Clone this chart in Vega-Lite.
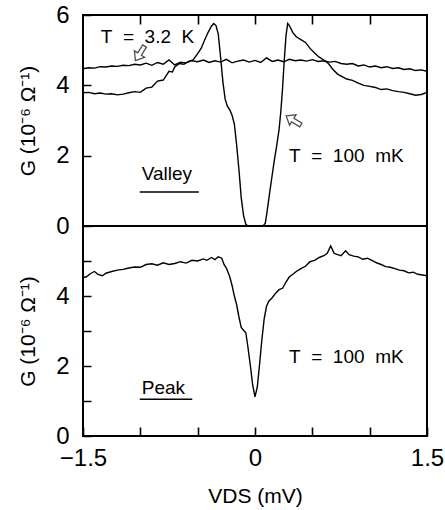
{
  "$schema": "https://vega.github.io/schema/vega-lite/v6.json",
  "padding": {"left": 16, "top": 2, "right": 0, "bottom": 0},
  "background": "white",
  "spacing": 0,
  "bounds": "flush",
  "config": {
    "view": {"stroke": "black", "strokeWidth": 2},
    "axis": {
      "domain": false, "grid": false, "ticks": true, "tickColor": "black", "tickWidth": 1.5, "tickSize": 8, "offset": -8,
      "labelColor": "black", "labelFont": "Liberation Sans", "labelFontSize": 24,
      "titleFont": "Liberation Sans", "titleFontSize": 21, "titleFontWeight": "normal", "titleColor": "black"
    },
    "axisX": {"tickColor": "black", "tickWidth": 1.6, "tickOpacity": 1},
    "text": {"font": "Liberation Sans", "fontSize": 19, "align": "left", "baseline": "alphabetic", "color": "black"}
  },
  "datasets": {
    "t32": [
      {"V": -1.5, "G": 4.47}, {"V": -1.45, "G": 4.5}, {"V": -1.4, "G": 4.49}, {"V": -1.35, "G": 4.53}, {"V": -1.3, "G": 4.52},
      {"V": -1.25, "G": 4.55}, {"V": -1.2, "G": 4.54}, {"V": -1.15, "G": 4.57}, {"V": -1.1, "G": 4.56}, {"V": -1.05, "G": 4.6},
      {"V": -1.0, "G": 4.58}, {"V": -0.95, "G": 4.63}, {"V": -0.9, "G": 4.57}, {"V": -0.85, "G": 4.65}, {"V": -0.8, "G": 4.6},
      {"V": -0.75, "G": 4.72}, {"V": -0.7, "G": 4.58}, {"V": -0.65, "G": 4.66}, {"V": -0.6, "G": 4.64}, {"V": -0.55, "G": 4.7},
      {"V": -0.5, "G": 4.67}, {"V": -0.45, "G": 4.72}, {"V": -0.4, "G": 4.65}, {"V": -0.35, "G": 4.7}, {"V": -0.3, "G": 4.66},
      {"V": -0.25, "G": 4.74}, {"V": -0.2, "G": 4.64}, {"V": -0.15, "G": 4.69}, {"V": -0.1, "G": 4.72}, {"V": -0.05, "G": 4.66},
      {"V": 0.0, "G": 4.71}, {"V": 0.05, "G": 4.65}, {"V": 0.1, "G": 4.78}, {"V": 0.15, "G": 4.68}, {"V": 0.2, "G": 4.72},
      {"V": 0.25, "G": 4.67}, {"V": 0.3, "G": 4.74}, {"V": 0.35, "G": 4.7}, {"V": 0.4, "G": 4.72}, {"V": 0.45, "G": 4.69},
      {"V": 0.5, "G": 4.73}, {"V": 0.55, "G": 4.68}, {"V": 0.6, "G": 4.7}, {"V": 0.65, "G": 4.66}, {"V": 0.7, "G": 4.68},
      {"V": 0.75, "G": 4.62}, {"V": 0.8, "G": 4.6}, {"V": 0.85, "G": 4.62}, {"V": 0.9, "G": 4.55}, {"V": 0.95, "G": 4.58},
      {"V": 1.0, "G": 4.52}, {"V": 1.05, "G": 4.55}, {"V": 1.1, "G": 4.5}, {"V": 1.15, "G": 4.53}, {"V": 1.2, "G": 4.48},
      {"V": 1.25, "G": 4.5}, {"V": 1.3, "G": 4.45}, {"V": 1.35, "G": 4.47}, {"V": 1.4, "G": 4.42}, {"V": 1.45, "G": 4.44},
      {"V": 1.5, "G": 4.4}
    ],
    "valley": [
      {"V": -1.5, "G": 3.79}, {"V": -1.45, "G": 3.8}, {"V": -1.4, "G": 3.76}, {"V": -1.35, "G": 3.78}, {"V": -1.3, "G": 3.75},
      {"V": -1.25, "G": 3.76}, {"V": -1.2, "G": 3.73}, {"V": -1.15, "G": 3.75}, {"V": -1.1, "G": 3.79}, {"V": -1.05, "G": 3.82},
      {"V": -1.0, "G": 3.8}, {"V": -0.95, "G": 3.92}, {"V": -0.9, "G": 3.95}, {"V": -0.85, "G": 4.12}, {"V": -0.8, "G": 4.15},
      {"V": -0.77, "G": 4.3}, {"V": -0.75, "G": 4.4}, {"V": -0.72, "G": 4.38}, {"V": -0.7, "G": 4.52}, {"V": -0.66, "G": 4.62},
      {"V": -0.62, "G": 4.6}, {"V": -0.58, "G": 4.68}, {"V": -0.54, "G": 4.72}, {"V": -0.5, "G": 4.9}, {"V": -0.47, "G": 5.05},
      {"V": -0.44, "G": 5.28}, {"V": -0.41, "G": 5.5}, {"V": -0.38, "G": 5.68}, {"V": -0.36, "G": 5.76}, {"V": -0.34, "G": 5.7},
      {"V": -0.32, "G": 5.45}, {"V": -0.3, "G": 4.8}, {"V": -0.28, "G": 4.1}, {"V": -0.26, "G": 3.6}, {"V": -0.24, "G": 3.4},
      {"V": -0.22, "G": 3.3}, {"V": -0.2, "G": 3.15}, {"V": -0.18, "G": 2.9}, {"V": -0.16, "G": 2.3}, {"V": -0.14, "G": 1.6},
      {"V": -0.12, "G": 0.8}, {"V": -0.1, "G": 0.3}, {"V": -0.08, "G": 0.05}, {"V": -0.06, "G": 0.0}, {"V": 0.07, "G": 0.0},
      {"V": 0.09, "G": 0.08}, {"V": 0.105, "G": 0.4}, {"V": 0.13, "G": 1.0}, {"V": 0.15, "G": 1.45}, {"V": 0.17, "G": 1.9},
      {"V": 0.19, "G": 2.3}, {"V": 0.21, "G": 2.75}, {"V": 0.225, "G": 3.25}, {"V": 0.24, "G": 3.9}, {"V": 0.255, "G": 4.7},
      {"V": 0.27, "G": 5.4}, {"V": 0.285, "G": 5.76}, {"V": 0.3, "G": 5.7}, {"V": 0.33, "G": 5.5}, {"V": 0.36, "G": 5.38},
      {"V": 0.4, "G": 5.3}, {"V": 0.44, "G": 5.22}, {"V": 0.48, "G": 5.05}, {"V": 0.52, "G": 4.92}, {"V": 0.56, "G": 4.8},
      {"V": 0.6, "G": 4.72}, {"V": 0.64, "G": 4.62}, {"V": 0.68, "G": 4.45}, {"V": 0.72, "G": 4.32}, {"V": 0.76, "G": 4.25},
      {"V": 0.8, "G": 4.18}, {"V": 0.85, "G": 4.14}, {"V": 0.9, "G": 4.06}, {"V": 0.95, "G": 4.0}, {"V": 1.0, "G": 3.97},
      {"V": 1.05, "G": 3.94}, {"V": 1.1, "G": 3.88}, {"V": 1.15, "G": 3.9}, {"V": 1.2, "G": 3.85}, {"V": 1.25, "G": 3.82},
      {"V": 1.3, "G": 3.8}, {"V": 1.35, "G": 3.76}, {"V": 1.4, "G": 3.72}, {"V": 1.45, "G": 3.74}, {"V": 1.5, "G": 3.8}
    ],
    "peak": [
      {"V": -1.5, "G": 4.53}, {"V": -1.47, "G": 4.55}, {"V": -1.43, "G": 4.65}, {"V": -1.4, "G": 4.7}, {"V": -1.37, "G": 4.62},
      {"V": -1.33, "G": 4.58}, {"V": -1.3, "G": 4.65}, {"V": -1.25, "G": 4.7}, {"V": -1.2, "G": 4.74}, {"V": -1.15, "G": 4.76},
      {"V": -1.1, "G": 4.8}, {"V": -1.05, "G": 4.83}, {"V": -1.0, "G": 4.82}, {"V": -0.95, "G": 4.9}, {"V": -0.9, "G": 4.92},
      {"V": -0.85, "G": 4.88}, {"V": -0.8, "G": 4.95}, {"V": -0.75, "G": 4.9}, {"V": -0.7, "G": 4.93}, {"V": -0.65, "G": 4.98},
      {"V": -0.6, "G": 4.94}, {"V": -0.55, "G": 5.02}, {"V": -0.5, "G": 5.0}, {"V": -0.45, "G": 5.06}, {"V": -0.42, "G": 5.02},
      {"V": -0.38, "G": 5.1}, {"V": -0.35, "G": 5.04}, {"V": -0.32, "G": 5.12}, {"V": -0.29, "G": 5.08}, {"V": -0.27, "G": 4.9},
      {"V": -0.25, "G": 4.8}, {"V": -0.22, "G": 4.55}, {"V": -0.2, "G": 4.3}, {"V": -0.18, "G": 4.0}, {"V": -0.16, "G": 3.75},
      {"V": -0.14, "G": 3.4}, {"V": -0.12, "G": 3.1}, {"V": -0.1, "G": 3.02}, {"V": -0.08, "G": 2.95}, {"V": -0.06, "G": 2.5},
      {"V": -0.04, "G": 2.0}, {"V": -0.02, "G": 1.45}, {"V": 0.0, "G": 1.12}, {"V": 0.02, "G": 1.4}, {"V": 0.04, "G": 2.05},
      {"V": 0.06, "G": 2.75}, {"V": 0.08, "G": 3.35}, {"V": 0.1, "G": 3.7}, {"V": 0.12, "G": 3.85}, {"V": 0.15, "G": 3.95},
      {"V": 0.18, "G": 4.08}, {"V": 0.21, "G": 4.18}, {"V": 0.24, "G": 4.22}, {"V": 0.27, "G": 4.4}, {"V": 0.3, "G": 4.55},
      {"V": 0.33, "G": 4.62}, {"V": 0.36, "G": 4.7}, {"V": 0.4, "G": 4.78}, {"V": 0.44, "G": 4.85}, {"V": 0.48, "G": 4.98},
      {"V": 0.52, "G": 5.02}, {"V": 0.56, "G": 5.1}, {"V": 0.6, "G": 5.15}, {"V": 0.63, "G": 5.22}, {"V": 0.66, "G": 5.43},
      {"V": 0.69, "G": 5.22}, {"V": 0.72, "G": 5.18}, {"V": 0.75, "G": 5.15}, {"V": 0.79, "G": 5.29}, {"V": 0.82, "G": 5.18},
      {"V": 0.86, "G": 5.14}, {"V": 0.9, "G": 5.12}, {"V": 0.94, "G": 5.05}, {"V": 0.98, "G": 5.08}, {"V": 1.02, "G": 5.02},
      {"V": 1.06, "G": 4.95}, {"V": 1.1, "G": 4.9}, {"V": 1.14, "G": 4.84}, {"V": 1.18, "G": 4.82}, {"V": 1.22, "G": 4.78},
      {"V": 1.26, "G": 4.74}, {"V": 1.3, "G": 4.72}, {"V": 1.34, "G": 4.66}, {"V": 1.38, "G": 4.68}, {"V": 1.42, "G": 4.62},
      {"V": 1.46, "G": 4.6}, {"V": 1.5, "G": 4.58}
    ]
  },
  "vconcat": [
    {
      "width": 344,
      "height": 211,
      "layer": [
        {
          "data": {"name": "t32"},
          "mark": {"type": "line", "color": "black", "strokeWidth": 1.4},
          "encoding": {
            "x": {"field": "V", "type": "quantitative", "scale": {"domain": [-1.5, 1.5], "nice": false},
              "axis": {"orient": "top", "title": null, "labels": false, "tickSize": 9, "offset": -9, "values": [-1, -0.5, 0, 0.5, 1]}},
            "y": {"field": "G", "type": "quantitative", "scale": {"domain": [0, 6], "nice": false},
              "axis": {"title": "G (10⁻⁶ Ω⁻¹)", "values": [0, 1, 2, 3, 4, 5, 6],
                "labelExpr": "datum.value % 2 == 0 ? datum.label : ''", "labelPadding": 14, "titlePadding": 17}}
          }
        },
        {
          "data": {"name": "valley"},
          "mark": {"type": "line", "color": "black", "strokeWidth": 1.4},
          "encoding": {
            "x": {"field": "V", "type": "quantitative"},
            "y": {"field": "G", "type": "quantitative"}
          }
        },
        {
          "data": {"values": [
            {"V": -1.345, "G": 5.19, "label": "T\u00a0\u00a0=\u00a0\u00a03.2\u00a0\u00a0K"},
            {"V": 0.297, "G": 1.83, "label": "T\u00a0\u00a0=\u00a0\u00a0100\u00a0\u00a0mK"},
            {"V": -0.988, "G": 1.31, "label": "Valley"}
          ]},
          "mark": {"type": "text"},
          "encoding": {
            "x": {"field": "V", "type": "quantitative"},
            "y": {"field": "G", "type": "quantitative"},
            "text": {"field": "label"}
          }
        },
        {
          "data": {"values": [{"V": -1.005, "V2": -0.49, "G": 0.97}]},
          "mark": {"type": "rule", "color": "black", "strokeWidth": 1.5},
          "encoding": {
            "x": {"field": "V", "type": "quantitative"},
            "x2": {"field": "V2"},
            "y": {"field": "G", "type": "quantitative"}
          }
        },
        {
          "data": {"values": [{"V": -1.003, "G": 4.91}]},
          "mark": {"type": "point", "shape": "M0,-1L0.7,-0.1L0.25,-0.1L0.25,1L-0.25,1L-0.25,-0.1L-0.7,-0.1Z", "filled": false, "stroke": "black", "strokeWidth": 1.3, "size": 300, "angle": 212},
          "encoding": {
            "x": {"field": "V", "type": "quantitative"},
            "y": {"field": "G", "type": "quantitative"}
          }
        },
        {
          "data": {"values": [{"V": 0.336, "G": 3.0}]},
          "mark": {"type": "point", "shape": "M0,-1L0.7,-0.1L0.25,-0.1L0.25,1L-0.25,1L-0.25,-0.1L-0.7,-0.1Z", "filled": false, "stroke": "black", "strokeWidth": 1.3, "size": 300, "angle": 302},
          "encoding": {
            "x": {"field": "V", "type": "quantitative"},
            "y": {"field": "G", "type": "quantitative"}
          }
        }
      ]
    },
    {
      "width": 344,
      "height": 210,
      "layer": [
        {
          "data": {"name": "peak"},
          "mark": {"type": "line", "color": "black", "strokeWidth": 1.4},
          "encoding": {
            "x": {"field": "V", "type": "quantitative", "scale": {"domain": [-1.5, 1.5], "nice": false},
              "axis": {"title": "VDS (mV)", "values": [-1.5, -1, -0.5, 0, 0.5, 1, 1.5], "tickSize": 9, "offset": -9,
                "labelExpr": "datum.value == -1.5 ? '−1.5' : datum.value == 0 ? '0' : datum.value == 1.5 ? '1.5' : ''",
                "labelPadding": 10, "titlePadding": 15, "labelFlush": false}},
            "y": {"field": "G", "type": "quantitative", "scale": {"domain": [0, 6], "nice": false},
              "axis": {"title": "G (10⁻⁶ Ω⁻¹)", "values": [0, 1, 2, 3, 4, 5],
                "labelExpr": "datum.value % 2 == 0 ? datum.label : ''", "labelPadding": 14, "titlePadding": 17}}
          }
        },
        {
          "data": {"values": [
            {"V": 0.297, "G": 2.08, "label": "T\u00a0\u00a0=\u00a0\u00a0100\u00a0\u00a0mK"},
            {"V": -0.988, "G": 1.2, "label": "Peak"}
          ]},
          "mark": {"type": "text"},
          "encoding": {
            "x": {"field": "V", "type": "quantitative"},
            "y": {"field": "G", "type": "quantitative"},
            "text": {"field": "label"}
          }
        },
        {
          "data": {"values": [{"V": -1.005, "V2": -0.547, "G": 1.05}]},
          "mark": {"type": "rule", "color": "black", "strokeWidth": 1.5},
          "encoding": {
            "x": {"field": "V", "type": "quantitative"},
            "x2": {"field": "V2"},
            "y": {"field": "G", "type": "quantitative"}
          }
        }
      ]
    }
  ]
}
